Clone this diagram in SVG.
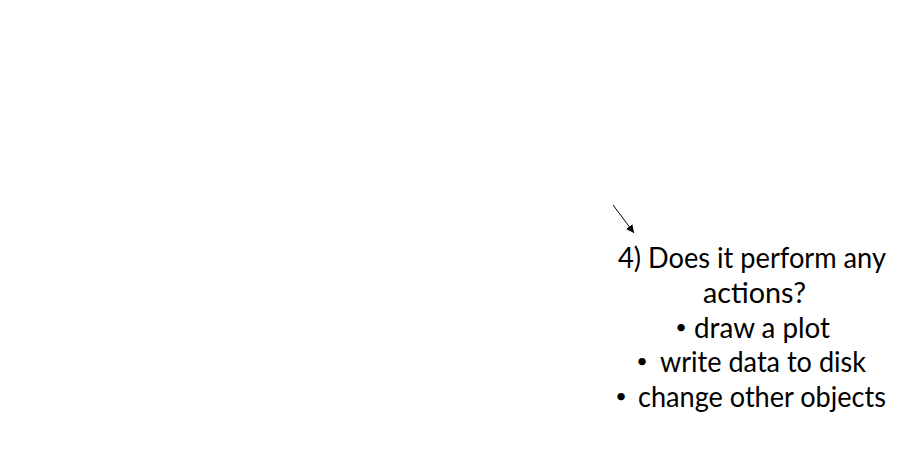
<svg xmlns="http://www.w3.org/2000/svg" width="901" height="450" viewBox="0 0 901 450">
<style>
.t{font-family:Lato,"Open Sans","Liberation Sans",sans-serif;font-size:28px;fill:#000}
.b{font-family:Lato,"Open Sans","Liberation Sans",sans-serif;font-size:20px;fill:#000;text-anchor:middle}
</style>
<defs>
<marker id="ah" viewBox="0 0 10 10" refX="10" refY="5" markerWidth="8" markerHeight="8" orient="auto" markerUnits="userSpaceOnUse">
<path d="M0,0 L10,5 L0,10 z" fill="#000"/>
</marker>
</defs>
<rect width="901" height="450" fill="#fff"/>
<g id="connectors">
<line x1="613" y1="205" x2="634" y2="233" stroke="#000" stroke-width="1" marker-end="url(#ah)"/>
</g>
<g id="node-actions">
<text class="t" x="618" y="268" textLength="268" lengthAdjust="spacingAndGlyphs">4) Does it perform any</text>
<text class="t" x="703" y="303" textLength="103" lengthAdjust="spacingAndGlyphs">actions?</text>
<text class="b" x="681" y="334">•</text>
<text class="t" x="694" y="338" textLength="136" lengthAdjust="spacingAndGlyphs">draw a plot</text>
<text class="b" x="642" y="368">•</text>
<text class="t" x="660" y="372" textLength="206" lengthAdjust="spacingAndGlyphs">write data to disk</text>
<text class="b" x="621" y="403">•</text>
<text class="t" x="638" y="407" textLength="248" lengthAdjust="spacingAndGlyphs">change other objects</text>
</g>
</svg>
